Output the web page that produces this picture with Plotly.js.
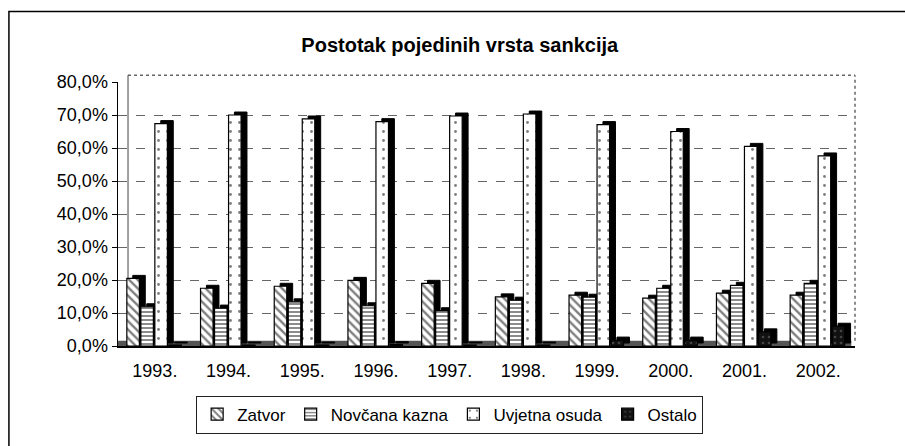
<!DOCTYPE html>
<html>
<head>
<meta charset="utf-8">
<script src="https://cdn.plot.ly/plotly-3.0.1.min.js"></script>
<style>html,body{margin:0;padding:0;background:#fff;}#chart{width:905px;height:446px;}</style>
</head>
<body>
<div id="chart"></div>
<script>
const years = ['1993.', '1994.', '1995.', '1996.', '1997.', '1998.', '1999.', '2000.', '2001.', '2002.'];
const zatvor = [20.5, 17.5, 18.1, 19.9, 19.0, 14.9, 15.4, 14.5, 16.0, 15.4];
const novcana = [11.9, 11.5, 13.4, 12.2, 10.7, 13.9, 14.8, 17.5, 18.4, 19.0];
const uvjetna = [67.4, 70.0, 68.8, 68.0, 69.7, 70.3, 67.1, 65.0, 60.5, 57.6];
const ostalo = [0.3, 0.3, 0.3, 0.4, 0.3, 0.3, 1.8, 1.8, 4.3, 6.0];
const seriesNames = ['Zatvor', 'Novčana kazna', 'Uvjetna osuda', 'Ostalo'];

const FONT = 'Liberation Sans, Arial, sans-serif';
const seriesData = [zatvor, novcana, uvjetna, ostalo];
const styles = [
  {color: '#ffffff', pattern: {shape: '\\', fgcolor: '#000', bgcolor: '#fff', size: 6, solidity: 0.4, fillmode: 'overlay'}},
  {color: '#ffffff', pattern: {shape: '-', fgcolor: '#000', bgcolor: '#fff', size: 4, solidity: 0.45, fillmode: 'overlay'}},
  {color: '#ffffff', pattern: {shape: '.', fgcolor: '#000', bgcolor: '#fff', size: 9, solidity: 0.08, fillmode: 'overlay'}},
  {color: '#111111', pattern: {shape: '.', fgcolor: '#777', bgcolor: '#111', size: 6, solidity: 0.15, fillmode: 'overlay'}}
];
const W = 0.17, STEP = 0.19, START = -0.38, DX = 0.08, DEPTH = 0.9;

const traces = [];
seriesData.forEach((vals, i) => {
  // dark 3D side/top
  traces.push({
    type: 'bar', x: years, y: vals, base: DEPTH,
    offset: START + STEP * i + DX, width: W,
    marker: {color: '#000', line: {color: '#000', width: 1}},
    showlegend: false, hoverinfo: 'skip'
  });
  // front face
  traces.push({
    type: 'bar', x: years, y: vals, name: seriesNames[i],
    offset: START + STEP * i, width: W,
    marker: {color: styles[i].color, pattern: styles[i].pattern, line: {color: '#000', width: 1.2}}
  });
});

const layout = {
  width: 905, height: 446,
  margin: {l: 118, r: 50, t: 82, b: 98},
  paper_bgcolor: '#fff', plot_bgcolor: 'rgba(0,0,0,0)',
  barmode: 'overlay',
  separators: ', ',
  font: {family: FONT, color: '#000'},
  title: {
    text: '<b>Postotak pojedinih vrsta sankcija</b>',
    font: {family: FONT, size: 20, color: '#000'},
    x: 0.508, xanchor: 'center', y: 0.899, yanchor: 'middle'
  },
  xaxis: {
    type: 'category', showgrid: false, zeroline: false,
    showline: true, linecolor: '#000', linewidth: 1.5,
    ticks: '', ticklabelstandoff: 8,
    tickfont: {size: 18, family: FONT, color: '#000'},
    fixedrange: true
  },
  yaxis: {
    range: [0, 80], dtick: 10, tickformat: '.1f', ticksuffix: '%',
    showgrid: true, gridcolor: '#666', griddash: 'dash', gridwidth: 1,
    zeroline: false, showline: true, linecolor: '#000', linewidth: 1.5,
    ticks: 'outside', ticklen: 5, tickcolor: '#000',
    tickfont: {size: 18, family: FONT, color: '#000'},
    fixedrange: true
  },
  legend: {
    orientation: 'h', x: 0.45, xanchor: 'center', y: -0.26, yanchor: 'middle',
    font: {size: 17, family: FONT, color: '#000'},
    bordercolor: '#222', borderwidth: 1, bgcolor: '#fff',
    itemwidth: 30
  },
  shapes: [
    {type: 'rect', xref: 'paper', yref: 'paper', x0: -0.148, x1: 1.3, y0: -0.6, y1: 1.267,
     line: {color: '#000', width: 1.5}, layer: 'below'},
    {type: 'line', xref: 'paper', yref: 'paper', x0: 0.0136, x1: 1.0, y0: 1.026, y1: 1.026,
     line: {color: '#666', width: 1.5, dash: 'dot'}, layer: 'below'},
    {type: 'line', xref: 'paper', yref: 'paper', x0: 1.0, x1: 1.0, y0: 0.02, y1: 1.026,
     line: {color: '#666', width: 1.5, dash: 'dot'}, layer: 'below'},
    {type: 'line', xref: 'paper', yref: 'paper', x0: 0.0136, x1: 0.0136, y0: 0.02, y1: 1.026,
     line: {color: '#444', width: 1}, layer: 'below'},
    {type: 'rect', xref: 'paper', yref: 'paper', x0: 0, x1: 0.995, y0: 0, y1: 0.02,
     fillcolor: '#555', line: {width: 0}, layer: 'below'}
  ]
};

Plotly.newPlot('chart', traces, layout, {staticPlot: true, displayModeBar: false});
</script>
</body>
</html>
